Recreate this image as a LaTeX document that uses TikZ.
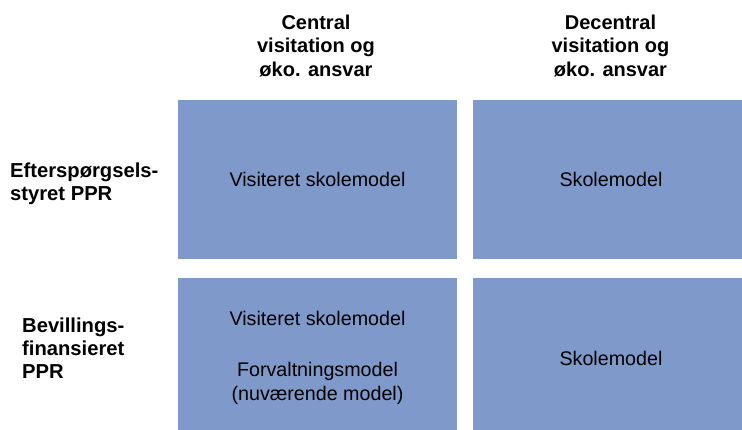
\documentclass[tikz,border=0pt]{standalone}
\usepackage{fontspec}
\setmainfont{Liberation Sans}
\definecolor{cellblue}{RGB}{127,153,203}
\tikzset{
  cell/.style={fill=cellblue, draw=none, anchor=north west, inner sep=0pt, outer sep=0pt,
    align=center, font=\fontsize{19.7}{24.5}\selectfont},
  header/.style={align=center, inner sep=0pt, font=\bfseries\fontsize{20}{23.5}\selectfont},
  rowlabel/.style={align=left, anchor=west, inner sep=0pt, font=\bfseries\fontsize{20.2}{23}\selectfont}
}
\begin{document}
\begin{tikzpicture}[x=1pt,y=-1pt]
\useasboundingbox (0,0) rectangle (742,430);
\clip (0,0) rectangle (742,430);
% cells
\node[cell, minimum width=279pt, minimum height=159pt] (tl) at (178,100) {Visiteret skolemodel};
\node[cell, minimum width=276pt, minimum height=159pt] (tr) at (473,100) {Skolemodel};
\node[cell, minimum width=279pt, minimum height=160pt] (bl) at (178,278) {Visiteret skolemodel\\[26pt]Forvaltningsmodel\\(nuværende model)};
\node[cell, minimum width=276pt, minimum height=160pt] (br) at (473,278) {Skolemodel};
% column headers
\node[header] (h1) at (316,45.7) {Central\\visitation og\\øko. ansvar};
\node[header] (h2) at (610.5,45.7) {Decentral\\visitation og\\øko. ansvar};
% row labels
\node[rowlabel] (r1) at (10,183.4) {Efterspørgsels-\\styret PPR};
\node[rowlabel] (r2) at (22,347.8) {Bevillings-\\finansieret\\PPR};
\end{tikzpicture}
\end{document}
